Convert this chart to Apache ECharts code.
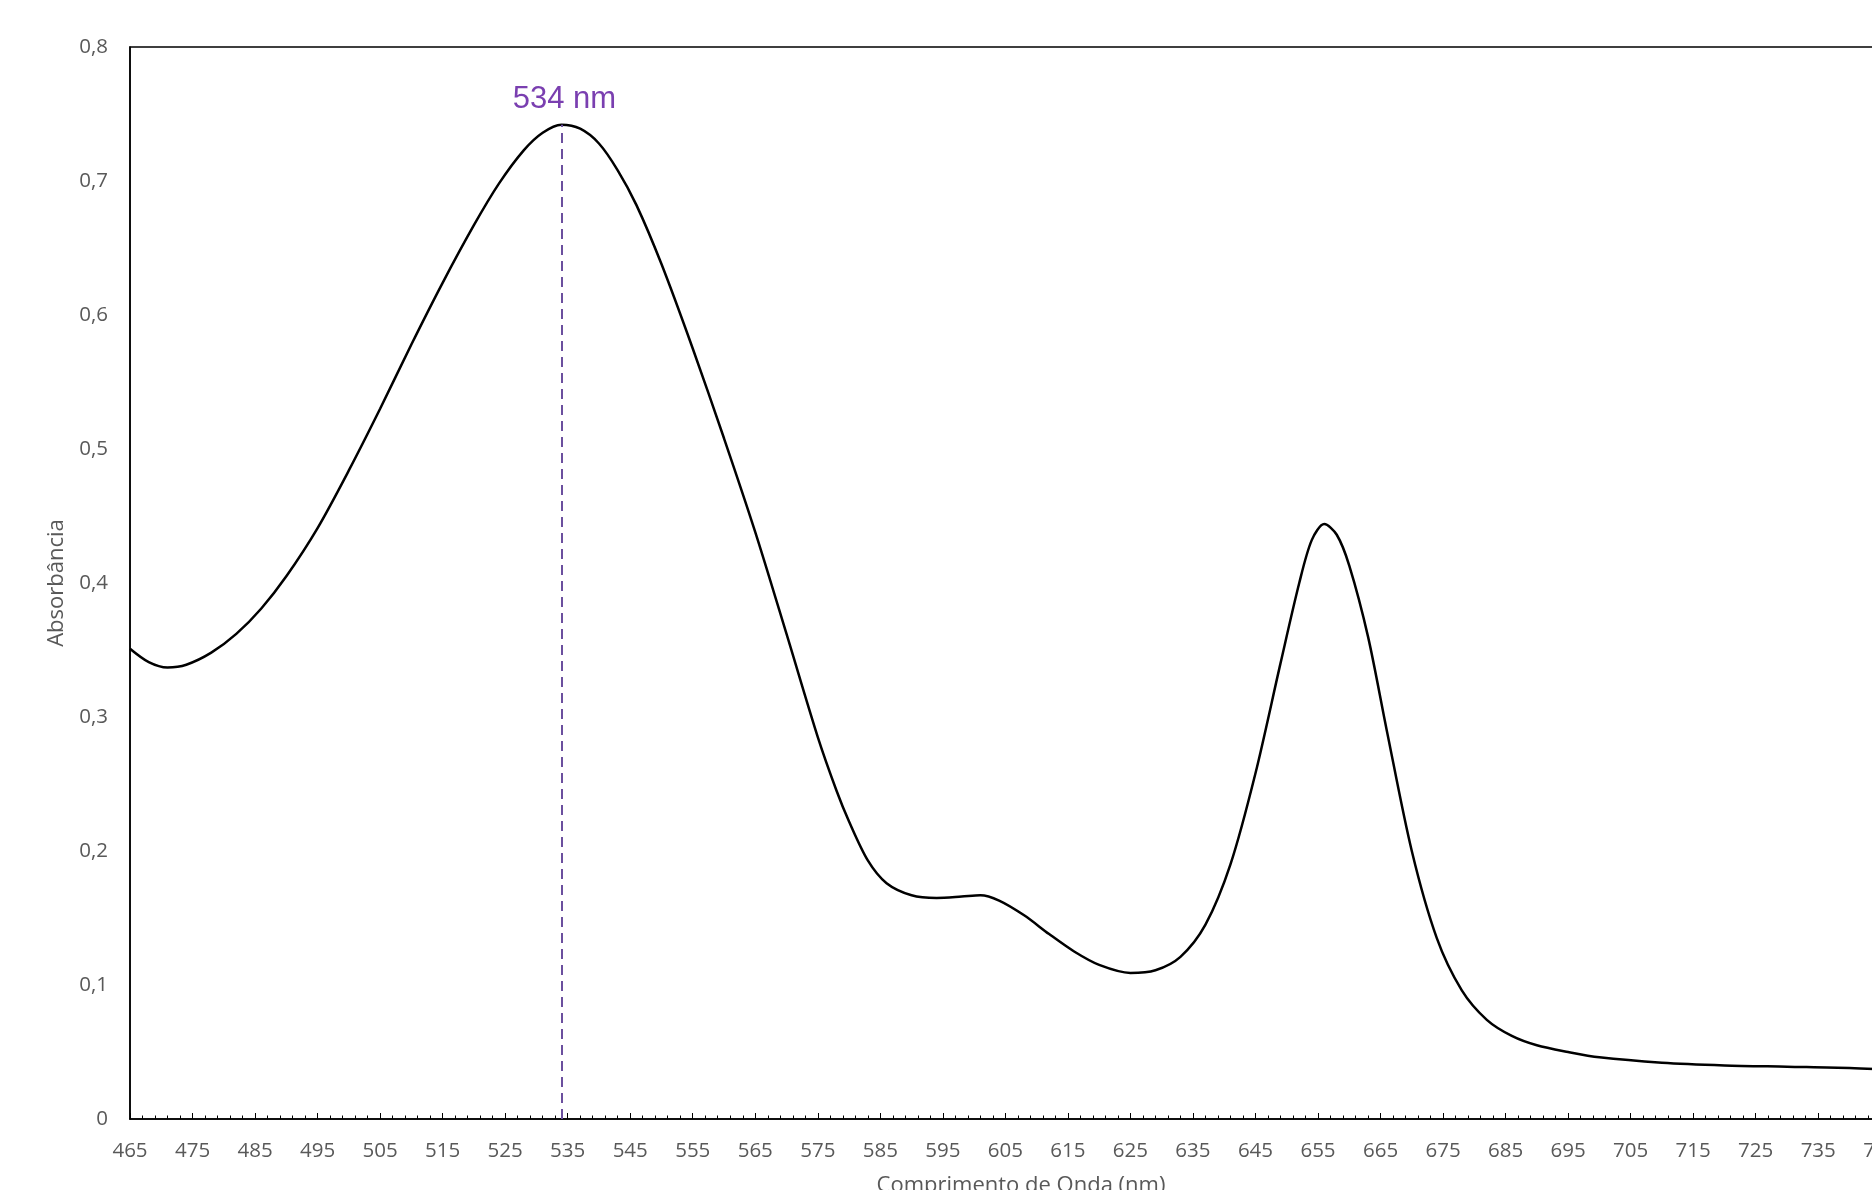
<!DOCTYPE html>
<html>
<head>
<meta charset="utf-8">
<script src="https://cdn.jsdelivr.net/npm/echarts@6/dist/echarts.min.js"></script>
<style>
html,body{margin:0;padding:0;background:#fff;overflow:hidden;width:1872px;height:1190px;}
#chart{width:2000px;height:1190px;}
</style>
</head>
<body>
<div id="chart"></div>
<script>
// Wavelength (nm) and absorbance
const wavelengths = [465,468,471,474,478,482,486,490,495,500,505,510,515,520,524,528,531,534,537,540,543,546,550,555,560,565,570,575,578,580,583,586,590,594,598,601,604,608,612,616,620,625,629,633,637,641,645,649,652,654,656,658,660,663,666,670,674,678,682,686,690,695,700,710,720,730,740,750];
const absorbance  = [0.351,0.341,0.337,0.339,0.348,0.362,0.381,0.405,0.441,0.484,0.530,0.578,0.624,0.667,0.698,0.723,0.736,0.742,0.739,0.728,0.708,0.682,0.638,0.575,0.508,0.438,0.362,0.285,0.245,0.222,0.193,0.176,0.167,0.165,0.166,0.167,0.163,0.152,0.138,0.125,0.115,0.109,0.111,0.121,0.145,0.190,0.258,0.340,0.400,0.432,0.444,0.436,0.413,0.360,0.290,0.200,0.135,0.096,0.074,0.062,0.055,0.050,0.046,0.042,0.040,0.039,0.038,0.036];
const peakWavelength = 534;
const peakAbsorbance = 0.742;
const peakLabel = '534 nm';
const xAxisTitle = 'Comprimento de Onda (nm)';
const yAxisTitle = 'Absorbância';

const chart = echarts.init(document.getElementById('chart'));
chart.setOption({
  animation: false,
  backgroundColor: '#ffffff',
  grid: {left: 130, top: 47, bottom: 71, right: 88, show: true, borderColor: '#000', borderWidth: 1.5,
    outerBoundsMode: 'none', containLabel: false},
  xAxis: {
    type: 'value', min: 465, max: 750, interval: 10,
    name: xAxisTitle, nameLocation: 'middle', nameGap: 56,
    nameTextStyle: {fontFamily: 'Open Sans', fontSize: 22, color: '#595959'},
    axisLine: {show: true, lineStyle: {color: '#000', width: 1.5}},
    axisTick: {show: true, inside: true, length: 6, lineStyle: {color: '#000', width: 1}},
    minorTick: {show: true, splitNumber: 5, length: 3.5, lineStyle: {color: '#000', width: 1}},
    splitLine: {show: false}, minorSplitLine: {show: false},
    axisLabel: {fontFamily: 'Open Sans', fontSize: 20.5, color: '#595959', margin: 22}
  },
  yAxis: {
    type: 'value', min: 0, max: 0.8, interval: 0.1,
    name: yAxisTitle, nameLocation: 'middle', nameGap: 62,
    nameTextStyle: {fontFamily: 'Open Sans', fontSize: 22, color: '#595959'},
    axisLine: {show: true, lineStyle: {color: '#000', width: 1.5}},
    axisTick: {show: false},
    splitLine: {show: false},
    axisLabel: {fontFamily: 'Open Sans', fontSize: 20.5, color: '#595959', margin: 22,
      formatter: v => (Math.round(v * 10) / 10).toString().replace('.', ',')}
  },
  series: [{
    type: 'line',
    data: wavelengths.map((w, i) => [w, absorbance[i]]),
    smooth: 0.3,
    showSymbol: false,
    lineStyle: {color: '#000', width: 2.5},
    markLine: {
      silent: true, symbol: ['none', 'none'],
      lineStyle: {color: '#6b4f9e', type: [10, 6], width: 2},
      label: {show: true, position: 'end', formatter: peakLabel, distance: 10, offset: [3, 0],
        fontFamily: 'Liberation Sans', fontSize: 31, color: '#7a3fb0'},
      data: [[{coord: [peakWavelength, 0]}, {coord: [peakWavelength, peakAbsorbance]}]]
    }
  }]
});
</script>
</body>
</html>
